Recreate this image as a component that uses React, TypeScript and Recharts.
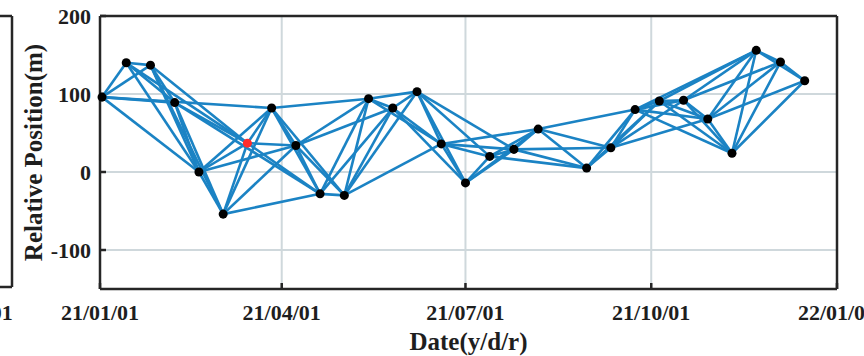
import { ScatterChart, Scatter, XAxis, YAxis, ZAxis, CartesianGrid } from 'recharts';

// acquisition dates and relative position (m) of each image
const dates = [
  '2021-01-02', '2021-01-14', '2021-01-26', '2021-02-07', '2021-02-19', '2021-03-03',
  '2021-03-15', '2021-03-27', '2021-04-08', '2021-04-20', '2021-05-02', '2021-05-14',
  '2021-05-26', '2021-06-07', '2021-06-19', '2021-07-01', '2021-07-13', '2021-07-25',
  '2021-08-06', '2021-08-30', '2021-09-11', '2021-09-23', '2021-10-05', '2021-10-17',
  '2021-10-29', '2021-11-10', '2021-11-22', '2021-12-04', '2021-12-16',
];
const positions = [
  96, 140, 137, 89, 0, -54, 37, 82, 34, -28, -30, 94, 82, 103, 36,
  -14, 20, 29, 55, 5, 31, 80, 91, 92, 68, 24, 156, 141, 117,
];
const masterIndex = 6;

// interferometric pairs (index into dates)
const pairs = [
  [0, 1], [0, 2], [0, 3], [0, 4], [0, 7],
  [1, 2], [1, 3], [1, 4], [1, 6],
  [2, 3], [2, 4], [2, 5], [2, 6],
  [3, 4], [3, 5], [3, 6], [3, 9],
  [4, 5], [4, 6], [4, 7], [4, 8],
  [5, 6], [5, 7], [5, 8], [5, 9],
  [6, 7], [6, 8], [6, 9],
  [7, 8], [7, 9], [7, 10], [7, 11],
  [8, 9], [8, 10], [8, 11], [8, 12],
  [9, 10], [9, 11], [9, 12],
  [10, 11], [10, 12], [10, 13], [10, 14],
  [11, 12], [11, 13], [11, 14],
  [12, 13], [12, 14], [12, 15],
  [13, 14], [13, 15], [13, 16], [13, 17],
  [14, 15], [14, 16], [14, 17], [14, 18],
  [15, 16], [15, 17], [15, 18],
  [16, 17], [16, 18], [16, 19],
  [17, 18], [17, 19], [17, 20],
  [18, 19], [18, 20], [18, 21],
  [19, 20], [19, 21], [19, 22],
  [20, 21], [20, 22], [20, 23], [20, 24],
  [21, 22], [21, 23], [21, 24], [21, 25], [21, 26],
  [22, 23], [22, 24], [22, 25], [22, 26],
  [23, 24], [23, 25], [23, 26], [23, 27],
  [24, 25], [24, 26], [24, 27], [24, 28],
  [25, 26], [25, 27], [25, 28],
  [26, 27], [26, 28],
  [27, 28],
];

const tickDates = ['2021-01-01', '2021-04-01', '2021-07-01', '2021-10-01', '2022-01-01'];
const tickLabels = ['21/01/01', '21/04/01', '21/07/01', '21/10/01', '22/01/01'];
const yTicks = [-100, 0, 100, 200];

const DAY = 86400000;
const origin = Date.UTC(2021, 0, 1);
const dayOf = (s: string) => (new Date(s + 'T00:00:00Z').getTime() - origin) / DAY;

const points = dates.map((d, i) => ({ x: dayOf(d), y: positions[i] }));
const xTicks = tickDates.map(dayOf);
const labelOf = (v: number) => tickLabels[xTicks.indexOf(v)] ?? '';

const LINE = '#1b83c4';
const AXIS = '#262626';
const font = { fontFamily: 'Liberation Serif', fontWeight: 700 };
const tickStyle = { ...font, fontSize: 22, fill: '#1e1e1e' };
const axisLine = { stroke: AXIS, strokeWidth: 2.5 };
const none = () => <g />;

const YLabel = ({ viewBox }: any) => {
  const cx = viewBox.x - 7;
  const cy = viewBox.y + viewBox.height / 2;
  return (
    <text x={cx} y={cy} transform={`rotate(-90 ${cx} ${cy})`} textAnchor="middle"
      dominantBaseline="central" style={{ ...font, fontSize: 25, fill: '#1e1e1e' }}>
      Relative Position(m)
    </text>
  );
};

// right edge of the neighbouring panel, cut off at the left side of the figure
const NeighbourEdge = () => (
  <div style={{ position: 'absolute', left: 0, top: 0, width: 14, height: 356, overflow: 'hidden' }}>
    <div style={{ marginLeft: -288 }}>
      <ScatterChart width={320} height={356} margin={{ top: 15, right: 19, bottom: 0, left: 0 }}>
        <XAxis xAxisId="b" dataKey="x" type="number" domain={[235, 384]} allowDataOverflow
          ticks={[xTicks[4]]} interval={0} tickFormatter={labelOf} height={69} tickSize={-6}
          tickMargin={23} axisLine={axisLine} tickLine={axisLine} tick={tickStyle} />
        <XAxis xAxisId="t" orientation="top" dataKey="x" type="number" domain={[235, 384]}
          allowDataOverflow ticks={[]} height={1} tick={false} axisLine={axisLine} />
        <YAxis yAxisId="l" dataKey="y" type="number" domain={[-150, 200]} hide />
        <YAxis yAxisId="r" orientation="right" dataKey="y" type="number" domain={[-150, 200]}
          ticks={yTicks} width={1} tick={false} tickSize={-6} axisLine={axisLine} tickLine={axisLine} />
        <Scatter xAxisId="b" yAxisId="l" data={points} shape={none} isAnimationActive={false} />
        <Scatter xAxisId="t" yAxisId="r" data={points} shape={none} isAnimationActive={false} />
      </ScatterChart>
    </div>
  </div>
);

export default function App() {
  return (
    <div style={{ position: 'absolute', left: 0, top: 0, width: 864, height: 356, background: '#fff' }}>
      <ScatterChart width={864} height={356} margin={{ top: 15, right: 26, bottom: 0, left: 40 }}>
        <CartesianGrid xAxisId="b" yAxisId="l" stroke="#cfd8dc" strokeWidth={2} />
        <XAxis xAxisId="b" dataKey="x" type="number" domain={[0, 365]} ticks={xTicks} interval={0}
          tickFormatter={labelOf} height={67} tickSize={-6} tickMargin={21}
          axisLine={axisLine} tickLine={axisLine} tick={tickStyle}
          label={{ value: 'Date(y/d/r)', position: 'insideBottom', offset: 6,
            style: { ...font, fontSize: 25, fill: '#1e1e1e' } }} />
        <XAxis xAxisId="t" orientation="top" dataKey="x" type="number" domain={[0, 365]} ticks={xTicks}
          height={1} tick={false} tickSize={-6} axisLine={axisLine} tickLine={axisLine} />
        <YAxis yAxisId="l" dataKey="y" type="number" domain={[-150, 200]} ticks={yTicks}
          interval={0} width={60} tickSize={-6} tickMargin={15}
          axisLine={axisLine} tickLine={axisLine} tick={tickStyle}
          label={{ content: YLabel }} />
        <YAxis yAxisId="r" orientation="right" dataKey="y" type="number" domain={[-150, 200]}
          ticks={yTicks} width={1} tick={false} tickSize={-6} axisLine={axisLine} tickLine={axisLine} />
        <ZAxis range={[95, 95]} />
        <Scatter xAxisId="t" yAxisId="r" data={points} shape={none} isAnimationActive={false} />
        {pairs.map(([a, b], k) => (
          <Scatter key={k} xAxisId="b" yAxisId="l" data={[points[a], points[b]]}
            line={{ stroke: LINE, strokeWidth: 2.6 }} lineType="joint" shape={none}
            isAnimationActive={false} />
        ))}
        <Scatter xAxisId="b" yAxisId="l" data={points.filter((_, i) => i !== masterIndex)}
          fill="#000" isAnimationActive={false} />
        <Scatter xAxisId="b" yAxisId="l" data={[points[masterIndex]]} fill="#ff2b2b"
          isAnimationActive={false} />
      </ScatterChart>
      <NeighbourEdge />
    </div>
  );
}
